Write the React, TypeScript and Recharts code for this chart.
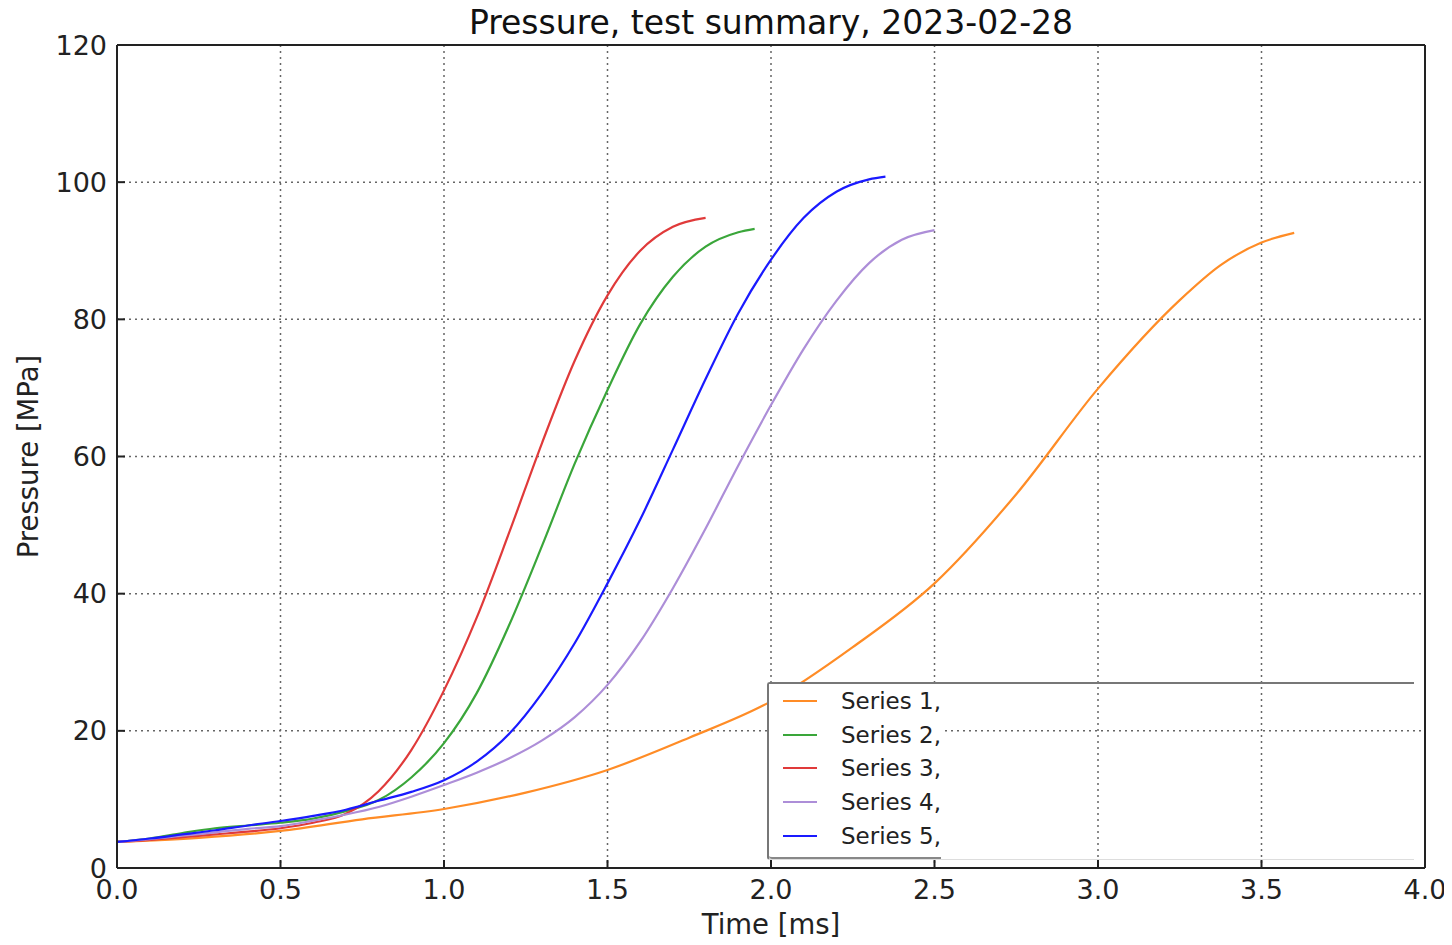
import { CartesianGrid, Label, Line, LineChart, XAxis, YAxis } from "recharts";

// time [ms] and pressure [MPa] per series
const t1 = [0, 0.25, 0.5, 0.75, 1.0, 1.25, 1.5, 1.75, 2.0, 2.25, 2.5, 2.75, 3.0, 3.25, 3.375, 3.5, 3.6];
const p1 = [3.8, 4.4, 5.4, 7.1, 8.6, 11, 14.3, 19, 24.3, 32.2, 41.5, 54.5, 69.9, 82.8, 87.9, 91.2, 92.6];

const t2 = [0, 0.1, 0.2, 0.3, 0.4, 0.5, 0.6, 0.7, 0.8, 0.9, 1.0, 1.1, 1.2, 1.3, 1.4, 1.5, 1.6, 1.7, 1.8, 1.9, 1.95];
const p2 = [3.8, 4.3, 5.1, 5.8, 6.2, 6.6, 7.2, 8.3, 9.9, 13.2, 18.2, 25.5, 35.5, 47, 59, 69.7, 79.3, 86.2, 90.6, 92.7, 93.2];

const t3 = [0, 0.1, 0.2, 0.3, 0.4, 0.5, 0.6, 0.7, 0.8, 0.9, 1.0, 1.1, 1.2, 1.3, 1.4, 1.5, 1.6, 1.7, 1.8];
const p3 = [3.8, 4.1, 4.5, 4.9, 5.3, 5.8, 6.6, 7.9, 11.2, 17.2, 25.9, 36.5, 49, 62, 74, 83.5, 90, 93.5, 94.8];

const t4 = [0, 0.1, 0.2, 0.3, 0.4, 0.5, 0.6, 0.7, 0.8, 0.9, 1.0, 1.1, 1.2, 1.3, 1.4, 1.5, 1.6, 1.7, 1.8, 1.9, 2.0, 2.1, 2.2, 2.3, 2.4, 2.5];
const p4 = [3.8, 4.2, 4.7, 5.2, 5.7, 6.1, 6.9, 7.8, 8.9, 10.4, 12.1, 13.9, 16, 18.6, 22, 26.7, 33.0, 40.8, 49.5, 58.7, 67.5, 75.7, 82.7, 88.2, 91.6, 93.0];

const t5 = [0, 0.1, 0.2, 0.3, 0.4, 0.5, 0.6, 0.7, 0.8, 0.9, 1.0, 1.1, 1.2, 1.3, 1.4, 1.5, 1.6, 1.7, 1.8, 1.9, 2.0, 2.1, 2.2, 2.3, 2.35];
const p5 = [3.8, 4.3, 4.9, 5.5, 6.2, 6.85, 7.6, 8.5, 9.8, 11.1, 12.8, 15.5, 19.6, 25.5, 32.8, 41.5, 50.8, 61, 71.3, 80.9, 88.7, 94.8, 98.6, 100.4, 100.8];

const xTicks = [0, 0.5, 1.0, 1.5, 2.0, 2.5, 3.0, 3.5, 4.0];
const yTicks = [0, 20, 40, 60, 80, 100, 120];

const series = [
  { name: "Series 1,", t: t1, p: p1, color: "#ff8c26" },
  { name: "Series 2,", t: t2, p: p2, color: "#3aa63a" },
  { name: "Series 3,", t: t3, p: p3, color: "#e03a3a" },
  { name: "Series 4,", t: t4, p: p4, color: "#ad8ed8" },
  { name: "Series 5,", t: t5, p: p5, color: "#1a1aff" },
];

const FONT = "'DejaVu Sans', sans-serif";
const tickStyle = { fontSize: 27, fill: "#222" };
const frame = { stroke: "#222", strokeWidth: 2 };

export default function App() {
  return (
    <div style={{ position: "relative", width: 1444, height: 937, fontFamily: FONT, background: "#fff" }}>
      <div
        style={{
          position: "absolute",
          left: 109,
          top: 0,
          width: 1308,
          textAlign: "center",
          fontSize: 33,
          lineHeight: "30px",
          color: "#111",
        }}
      >
        Pressure, test summary, 2023-02-28
      </div>
      <LineChart width={1444} height={937} margin={{ top: 0, right: 19, bottom: 0, left: 0 }}>
        <CartesianGrid stroke="#666" strokeDasharray="2 4" strokeWidth={1.5} />
        <XAxis
          type="number"
          dataKey="t"
          domain={[0, 4]}
          ticks={xTicks}
          tickFormatter={(v) => Number(v).toFixed(1)}
          height={77}
          tick={tickStyle}
          tickSize={-8}
          tickMargin={20}
          axisLine={frame}
          tickLine={frame}
          allowDuplicatedCategory={false}
        >
          <Label value="Time [ms]" position="insideBottom" offset={11} style={{ fontSize: 27.5, fill: "#222" }} />
        </XAxis>
        <XAxis
          xAxisId="top"
          orientation="top"
          type="number"
          domain={[0, 4]}
          ticks={xTicks}
          height={37}
          tick={false}
          tickSize={-8}
          axisLine={frame}
          tickLine={frame}
        />
        <YAxis
          type="number"
          domain={[0, 120]}
          ticks={yTicks}
          width={109}
          tick={tickStyle}
          tickSize={-8}
          tickMargin={18}
          axisLine={frame}
          tickLine={frame}
          label={{
            content: (props: any) => {
              const vb = props.viewBox || { x: 0, y: 0, height: 0 };
              const cx = vb.x + 20;
              const cy = vb.y + vb.height / 2;
              return (
                <text
                  x={cx}
                  y={cy}
                  transform={`rotate(-90 ${cx} ${cy})`}
                  textAnchor="middle"
                  dominantBaseline="central"
                  fontSize={27.5}
                  fill="#222"
                >
                  Pressure [MPa]
                </text>
              );
            },
          }}
        />
        <YAxis
          yAxisId="right"
          orientation="right"
          type="number"
          domain={[0, 120]}
          ticks={yTicks}
          width={8}
          tick={false}
          tickSize={-8}
          axisLine={frame}
          tickLine={frame}
        />
        {series.map((s) => (
          <Line
            key={s.name}
            data={s.t.map((t, i) => ({ t, p: s.p[i] }))}
            dataKey="p"
            name={s.name}
            type="monotone"
            stroke={s.color}
            strokeWidth={2.2}
            dot={false}
            isAnimationActive={false}
          />
        ))}
      </LineChart>
      <div
        style={{
          position: "absolute",
          left: 759,
          top: 674,
          width: 645,
          height: 175,
          borderTop: "2px solid #777",
          borderLeft: "2px solid #777",
          borderBottom: "1px solid #ddd",
          borderTopLeftRadius: 3,
          borderBottomLeftRadius: 3,
        }}
      >
        <div
          style={{
            width: 172,
            height: 175,
            background: "#fff",
            borderBottom: "2px solid #888",
            borderBottomLeftRadius: 3,
            boxSizing: "border-box",
          }}
        >
          {series.map((s) => (
            <div key={s.name} style={{ display: "flex", alignItems: "center", height: 33.7 }}>
              <div style={{ width: 34, height: 0, borderTop: `2.5px solid ${s.color}`, marginLeft: 14 }} />
              <span style={{ marginLeft: 24, fontSize: 23, color: "#222" }}>{s.name}</span>
            </div>
          ))}
        </div>
      </div>
    </div>
  );
}
